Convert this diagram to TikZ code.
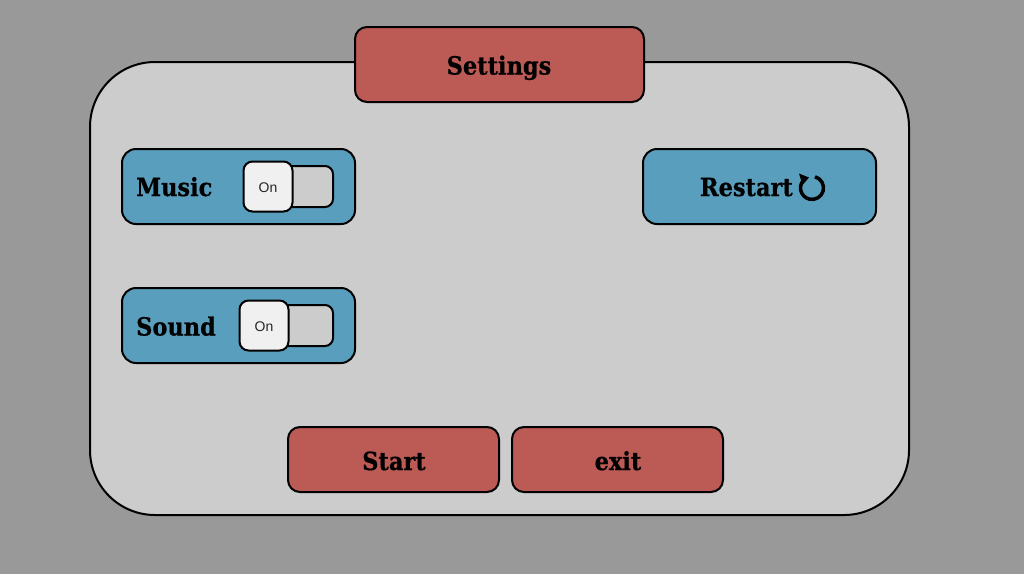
\documentclass[tikz,border=0pt]{standalone}
\usepackage{fontspec}
\setmainfont{DejaVu Serif Condensed}[BoldFeatures={FakeBold=0.6}]
\newfontfamily\sansfont{Liberation Sans}
\usepackage{xcolor}
\definecolor{pagegray}{HTML}{999999}
\definecolor{panelgray}{HTML}{CCCCCC}
\definecolor{btnred}{HTML}{BC5A55}
\definecolor{btnblue}{HTML}{5A9EBD}
\definecolor{knobwhite}{HTML}{F0F0F0}

\begin{document}
\begin{tikzpicture}[
			     x=1pt, y=-1pt,
			     box/.style={draw=black, line width=2pt, inner sep=0pt, outer sep=0pt},
			     redbtn/.style={box, fill=btnred, rounded corners=12pt},
			     bluebtn/.style={box, fill=btnblue, rounded corners=14pt, minimum width=233pt, minimum height=75pt},
			     track/.style={box, fill=panelgray, rounded corners=8pt, minimum width=60pt, minimum height=41pt},
			     knob/.style={box, fill=knobwhite, rounded corners=9pt, minimum width=49pt, minimum height=50pt, text height=12pt, text depth=0pt, text=black!85, font=\sansfont\fontsize{14}{14}\selectfont},
			     caption/.style={inner sep=0pt, font=\bfseries\fontsize{25}{25}\selectfont}
			     ]
\useasboundingbox[fill=pagegray] (0,0) rectangle (1024,574);
\node[box, fill=panelgray, rounded corners=65pt, minimum width=819pt, minimum height=453pt] (panel) at (499.5,288.5) {};
\node[redbtn, minimum width=289pt, minimum height=75pt] (settings) at (499.5,64.5) {};
\node[bluebtn] (music) at (238.5,186.5) {};
\node[bluebtn] (sound) at (238.5,325.5) {};
\node[bluebtn] (restart) at (759.5,186.5) {};
\node[track] (musictrack) at (303,186.5) {};
\node[track] (soundtrack) at (303,325.5) {};
\node[knob] (musicknob) at (268,186.5) {On};
\node[knob] (soundknob) at (264,325.5) {On};
\node[redbtn, minimum width=211pt, minimum height=65pt] (start) at (393.5,459.5) {};
\node[redbtn, minimum width=211pt, minimum height=65pt] (exit) at (617.5,459.5) {};
% captions sit on the text baseline
\node[caption, anchor=base] (settingslabel) at (499,74.5) {Settings};
\node[caption, anchor=base west] (musiclabel) at (136,196) {Music};
\node[caption, anchor=base west] (soundlabel) at (136,335.5) {Sound};
\node[caption, anchor=base east] (restartlabel) at (793,196) {Restart};
\node[caption, anchor=base] (startlabel) at (394,470) {Start};
\node[caption, anchor=base] (exitlabel) at (618,470) {exit};
% reload icon
\draw[line width=3.5pt] (815,176.8) arc[start angle=-75, end angle=220, radius=11.5];
\fill (799,173.5) -- (809,177.5) -- (802.5,185) -- cycle;
\end{tikzpicture}
\end{document}
